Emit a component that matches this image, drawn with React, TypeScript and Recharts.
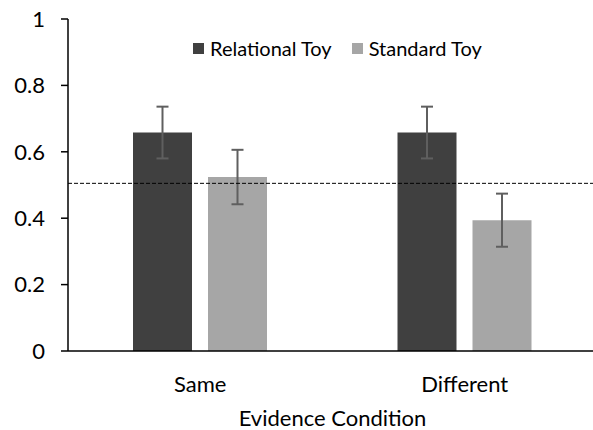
import React from 'react';
import { BarChart, Bar, XAxis, YAxis, ErrorBar, ReferenceLine } from 'recharts';

const categories = ['Same', 'Different'];
const relationalValues = [0.658, 0.658];
const relationalErrors = [0.078, 0.078];
const standardValues = [0.524, 0.394];
const standardErrors = [0.082, 0.08];
const yTicks = [0, 0.2, 0.4, 0.6, 0.8, 1];
const chanceLevel = 0.505;
const chanceSpan = [0, 1.777];

const seriesNames = ['Relational Toy', 'Standard Toy'];
const seriesColors = ['#404040', '#a6a6a6'];

const data = categories.map((c, i) => ({
  name: c,
  relational: relationalValues[i],
  relationalErr: relationalErrors[i],
  standard: standardValues[i],
  standardErr: standardErrors[i],
}));

const FONT = 'Lato, "Open Sans", sans-serif';

export default function App() {
  return (
    <div style={{ position: 'absolute', left: 0, top: 0, width: 593, height: 430, overflow: 'hidden', background: '#fff' }}>
      <BarChart
        width={600}
        height={430}
        data={data}
        margin={{ top: 19, right: 3, bottom: 0, left: 0 }}
        barSize={59}
        barGap={16}
      >
        <XAxis
          dataKey="name"
          height={79}
          tickLine={false}
          tickSize={0}
          tickMargin={25}
          axisLine={{ stroke: '#000', strokeWidth: 1.5 }}
          tick={{ fill: '#000', fontSize: 22, fontFamily: FONT }}
          label={{ value: 'Evidence Condition', position: 'insideBottom', offset: 4, fill: '#000', fontSize: 22, fontFamily: FONT }}
        />
        <XAxis xAxisId="num" type="number" domain={[0, 2]} allowDataOverflow hide />
        <YAxis
          width={68}
          domain={[0, 1]}
          ticks={yTicks}
          interval={0}
          tickSize={7}
          tickMargin={16}
          axisLine={{ stroke: '#000', strokeWidth: 1.5 }}
          tickLine={{ stroke: '#000', strokeWidth: 1.5 }}
          tick={{ fill: '#000', fontSize: 22, fontFamily: FONT }}
          tickFormatter={(v: number) => String(v)}
        />
        <Bar dataKey="relational" fill={seriesColors[0]} isAnimationActive={false}>
          <ErrorBar dataKey="relationalErr" width={6} stroke="#5f5f5f" strokeWidth={2} />
        </Bar>
        <Bar dataKey="standard" fill={seriesColors[1]} isAnimationActive={false}>
          <ErrorBar dataKey="standardErr" width={6} stroke="#5f5f5f" strokeWidth={2} />
        </Bar>
        <ReferenceLine
          xAxisId="num"
          segment={[{ x: chanceSpan[0], y: chanceLevel }, { x: chanceSpan[1], y: chanceLevel }]}
          ifOverflow="visible"
          stroke="#000"
          strokeWidth={1}
          strokeDasharray="4 2"
        />
      </BarChart>
      <div style={{ position: 'absolute', left: 193, top: 36, display: 'flex', alignItems: 'center', fontFamily: FONT, fontSize: 20, color: '#000', whiteSpace: 'nowrap' }}>
        {seriesNames.map((n, i) => (
          <div key={n} style={{ display: 'flex', alignItems: 'center', marginRight: i === 0 ? 20 : 0 }}>
            <span style={{ display: 'inline-block', width: 11, height: 11, background: seriesColors[i], marginRight: 6 }} />
            <span>{n}</span>
          </div>
        ))}
      </div>
    </div>
  );
}
